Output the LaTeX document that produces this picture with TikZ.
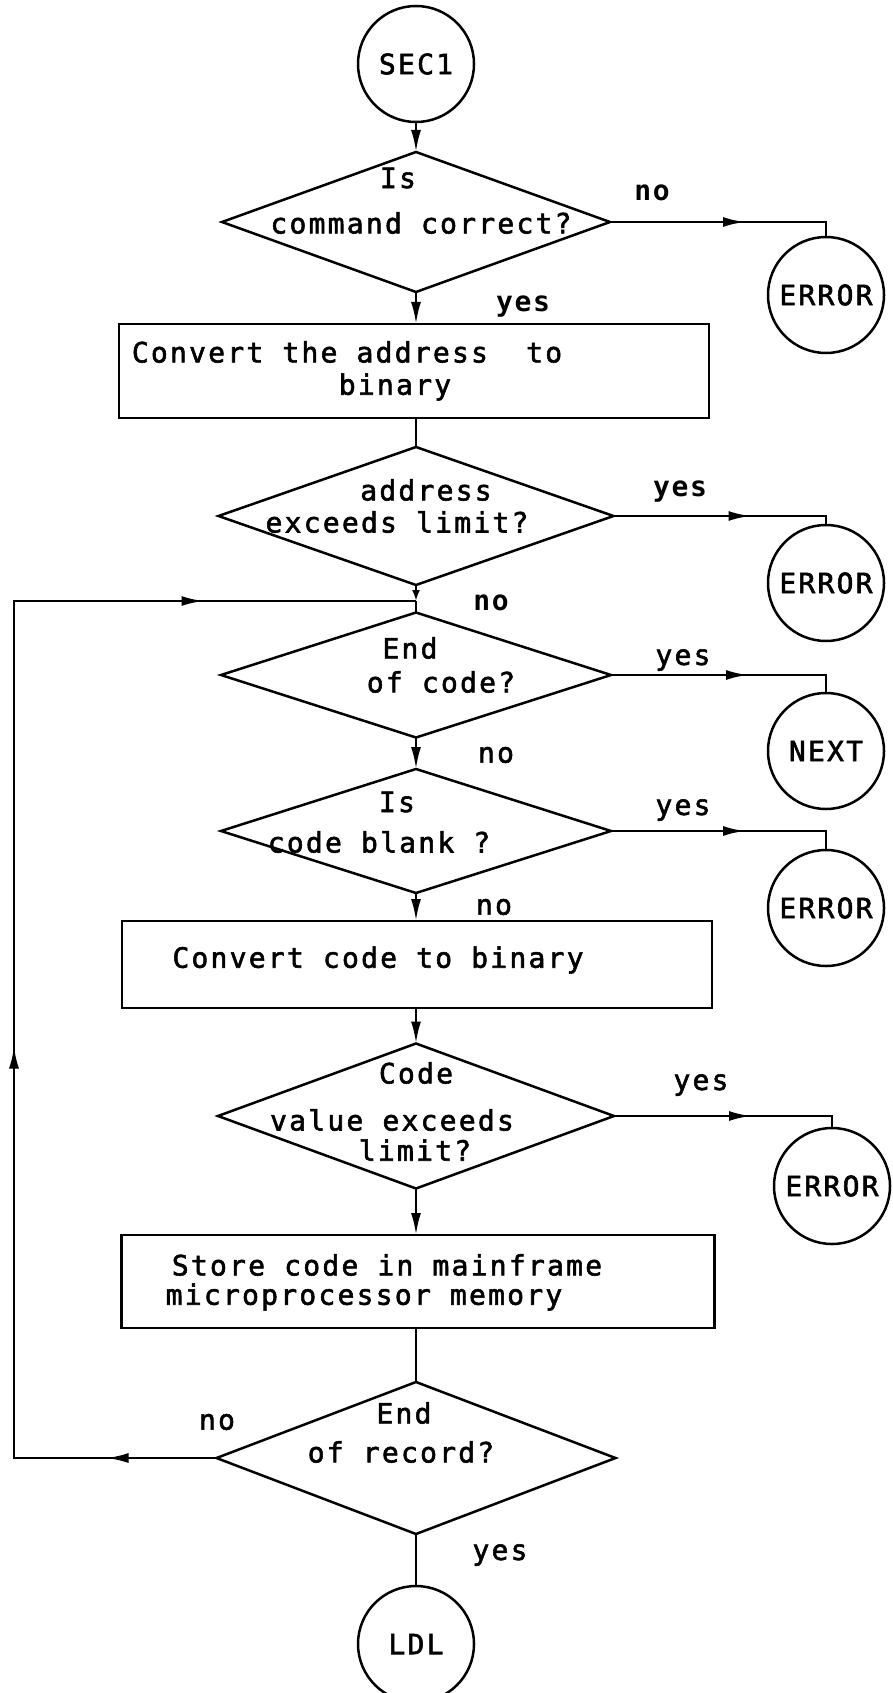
\documentclass[tikz,border=0pt]{standalone}
\usepackage{fontspec}
\newfontfamily\plotfont[LetterSpace=8,FakeBold=2]{DejaVu Sans Mono}
\newfontfamily\plotfontbold[LetterSpace=6]{DejaVu Sans Mono Bold}
\usetikzlibrary{shapes.geometric,arrows.meta,decorations.markings}

\begin{document}
\begin{tikzpicture}[x=1pt,y=-1pt,line width=2.5pt,
  >={Latex[length=22pt,width=10pt]},
  every node/.style={font=\plotfont\fontsize{28pt}{32pt}\selectfont,inner sep=0pt},
  decision/.style={draw,diamond,inner sep=0pt,outer sep=0pt},
  process/.style={draw,rectangle,inner sep=0pt,outer sep=0pt},
  term/.style={draw,circle,minimum size=116pt,inner sep=0pt,outer sep=0pt},
  bl/.style={font=\plotfontbold\fontsize{28pt}{32pt}\selectfont},
  midarrow/.style={postaction={decorate,decoration={markings,
      mark=at position #1 with {\arrow{>}}}}},
  loopmarks/.style={postaction={decorate,decoration={markings,
      mark=at position 110pt with {\arrow{>}},
      mark=at position 614pt with {\arrow{>}},
      mark=at position 1249pt with {\arrow{>}}}}}
]
\clip (0,0) rectangle (893,1693);

% main column
\node[term] (s) at (416,64) {SEC1};

\node[decision,minimum width=388pt,minimum height=140pt] (d1) at (416,222) {};
\node (d1a) at (398,178) {Is};
\node (d1b) at (421,223) {command correct?};
\node[term] (e1) at (826,295) {ERROR};

\node[process,minimum width=590pt,minimum height=94pt] (b1) at (414,371) {};
\node (b1a) at (347,352) {Convert the address\ \ to};
\node (b1b) at (395,387) {binary};

\node[decision,minimum width=395pt,minimum height=138pt] (d2) at (416,516) {};
\node (d2a) at (426,490) {address};
\node (d2b) at (397,522) {exceeds limit?};
\node[term] (e2) at (826,583) {ERROR};

\coordinate (j) at (416,601);
\coordinate (lt) at (14,601);

\node[decision,minimum width=390pt,minimum height=125pt] (d3) at (416,675) {};
\node (d3a) at (410,648) {End};
\node (d3b) at (441,682) {of code?};
\node[term] (nx) at (826,751) {NEXT};

\node[decision,minimum width=390pt,minimum height=124pt] (d4) at (416,831) {};
\node (d4a) at (397,802) {Is};
\node (d4b) at (379,842) {code blank ?};
\node[term] (e3) at (826,908) {ERROR};

\node[process,minimum width=590pt,minimum height=87pt] (b2) at (417,964.5) {};
\node (b2a) at (378,960) {Convert code to binary};

\node[decision,minimum width=396pt,minimum height=145pt] (d5) at (416,1116) {};
\node (d5a) at (416,1073) {Code};
\node (d5b) at (392,1120) {value exceeds};
\node (d5c) at (415,1150) {limit?};
\node[term] (e4) at (832,1186) {ERROR};

\node[process,minimum width=593pt,minimum height=93pt] (b3) at (418,1281.5) {};
\node (b3a) at (387,1265) {Store code in mainframe};
\node (b3b) at (364,1297) {microprocessor memory};

\node[decision,minimum width=399pt,minimum height=152pt] (d6) at (416,1458) {};
\node (d6a) at (404,1413) {End};
\node (d6b) at (401,1452) {of record?};

\node[term] (ldl) at (416,1644) {LDL};

% vertical flow
\draw[->] (s.south) -- (d1.north);
\draw[->] (d1.south) -- (b1.north -| d1.south);
\draw (b1.south -| d2.north) -- (d2.north);
\draw[-{Latex[length=11pt,width=8pt]}] (d2.south) -- (j);
\draw (j) -- (d3.north);
\draw[->] (d3.south) -- (d4.north);
\draw[->] (d4.south) -- (b2.north -| d4.south);
\draw[->] (b2.south -| d5.north) -- (d5.north);
\draw[->] (d5.south) -- (b3.north -| d5.south);
\draw (b3.south -| d6.north) -- (d6.north);
\draw (d6.south) -- (ldl.north);

% branches to the right
\draw[midarrow=135pt] (d1.east) -- (d1.east -| e1.north) -- (e1.north);
\draw[midarrow=137pt] (d2.east) -- (d2.east -| e2.north) -- (e2.north);
\draw[midarrow=137pt] (d3.east) -- (d3.east -| nx.north) -- (nx.north);
\draw[midarrow=134pt] (d4.east) -- (d4.east -| e3.north) -- (e3.north);
\draw[midarrow=137pt] (d5.east) -- (d5.east -| e4.north) -- (e4.north);

% loop back
\draw[loopmarks] (d6.west) -- (d6.west -| lt) -- (lt) -- (j);

% branch labels
\node[bl] (l1) at (652,193) {no};
\node[bl] (l2) at (523,307) {yes};
\node[bl] (l3) at (680,492) {yes};
\node[bl] (l4) at (491,603) {no};
\node (l5) at (683,660) {yes};
\node (l6) at (496,755) {no};
\node (l7) at (683,810) {yes};
\node (l8) at (494,907) {no};
\node (l9) at (701,1085) {yes};
\node (l10) at (217,1422) {no};
\node (l11) at (500,1555) {yes};
\end{tikzpicture}
\end{document}
